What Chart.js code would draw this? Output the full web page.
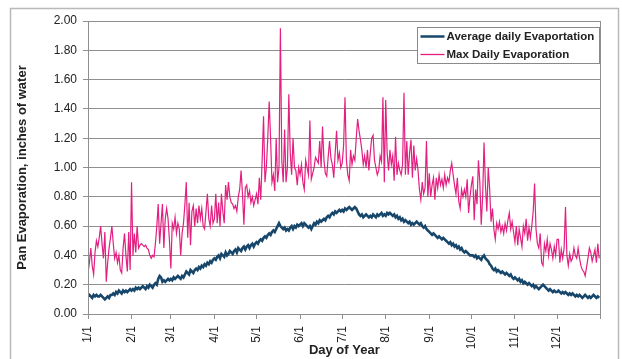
<!DOCTYPE html>
<html>
<head>
<meta charset="utf-8">
<script src="https://cdn.jsdelivr.net/npm/chart.js@4.4.1/dist/chart.umd.min.js"></script>
<style>
  html, body { margin: 0; padding: 0; background: #ffffff; }
  #wrap { position: relative; width: 622px; height: 359px; }
</style>
</head>
<body>
<div id="wrap"><canvas id="chart" width="622" height="359"></canvas></div>
<script>
// Day index (0 = Jan 1) of the first day of each month, and the axis labels shown there
const monthStarts = [0, 31, 59, 90, 120, 151, 181, 212, 243, 273, 304, 334];
const monthLabels = ['1/1', '2/1', '3/1', '4/1', '5/1', '6/1', '7/1', '8/1', '9/1', '10/1', '11/1', '12/1'];
const yTickValues = [0, 0.2, 0.4, 0.6, 0.8, 1.0, 1.2, 1.4, 1.6, 1.8, 2.0];
const seriesNames = ['Average daily Evaportation', 'Max Daily Evaporation'];

// Average daily pan evaporation, inches (one value per day, Jan 1 .. Dec 31)
const avgEvap = [
  // Jan
  0.12,0.13,0.12,0.11,0.13,0.12,0.13,0.12,0.12,0.13,0.12,0.11,0.10,0.11,0.12,0.11,0.13,0.13,0.14,0.13,0.15,0.14,0.16,0.15,0.14,0.16,0.15,0.16,0.15,0.16,0.17,
  // Feb
  0.16,0.17,0.16,0.18,0.17,0.18,0.17,0.18,0.19,0.18,0.17,0.19,0.18,0.20,0.19,0.18,0.20,0.21,0.20,0.24,0.26,0.25,0.22,0.23,0.22,0.23,0.24,0.23,
  // Mar
  0.24,0.23,0.25,0.24,0.25,0.26,0.25,0.24,0.26,0.25,0.27,0.29,0.28,0.27,0.30,0.29,0.28,0.30,0.31,0.30,0.32,0.31,0.33,0.32,0.34,0.33,0.35,0.34,0.36,0.35,0.37,
  // Apr
  0.38,0.37,0.39,0.40,0.38,0.41,0.40,0.39,0.42,0.40,0.41,0.43,0.42,0.41,0.43,0.44,0.42,0.45,0.44,0.43,0.45,0.46,0.44,0.46,0.47,0.45,0.47,0.48,0.46,0.48,
  // May
  0.49,0.48,0.50,0.51,0.50,0.52,0.53,0.52,0.54,0.55,0.54,0.56,0.57,0.56,0.58,0.60,0.62,0.60,0.59,0.58,0.59,0.57,0.58,0.57,0.59,0.60,0.58,0.60,0.59,0.61,0.60,
  // Jun
  0.61,0.62,0.60,0.62,0.61,0.60,0.59,0.60,0.58,0.60,0.62,0.61,0.63,0.62,0.64,0.63,0.64,0.65,0.64,0.66,0.67,0.66,0.68,0.69,0.68,0.70,0.69,0.70,0.71,0.70,
  // Jul
  0.71,0.70,0.72,0.71,0.72,0.73,0.72,0.71,0.72,0.73,0.72,0.70,0.68,0.67,0.68,0.66,0.67,0.68,0.67,0.66,0.67,0.66,0.68,0.67,0.66,0.68,0.67,0.68,0.69,0.67,0.68,
  // Aug
  0.67,0.69,0.68,0.69,0.68,0.67,0.68,0.66,0.67,0.65,0.66,0.64,0.65,0.63,0.64,0.63,0.62,0.63,0.61,0.62,0.61,0.62,0.63,0.62,0.61,0.62,0.60,0.59,0.60,0.58,0.57,
  // Sep
  0.56,0.55,0.54,0.55,0.54,0.53,0.52,0.53,0.52,0.51,0.52,0.51,0.50,0.49,0.48,0.49,0.47,0.48,0.46,0.47,0.45,0.46,0.44,0.45,0.43,0.42,0.43,0.42,0.41,0.40,
  // Oct
  0.40,0.40,0.39,0.40,0.38,0.39,0.38,0.37,0.39,0.40,0.38,0.37,0.36,0.34,0.33,0.31,0.30,0.31,0.29,0.30,0.29,0.28,0.29,0.28,0.27,0.28,0.27,0.26,0.27,0.25,0.24,
  // Nov
  0.25,0.24,0.23,0.24,0.22,0.23,0.21,0.22,0.21,0.20,0.21,0.20,0.19,0.20,0.18,0.19,0.18,0.17,0.18,0.19,0.20,0.19,0.18,0.17,0.16,0.17,0.16,0.15,0.16,0.15,
  // Dec
  0.15,0.16,0.15,0.14,0.15,0.14,0.15,0.14,0.13,0.14,0.13,0.14,0.13,0.12,0.13,0.12,0.13,0.12,0.11,0.12,0.13,0.12,0.11,0.12,0.11,0.12,0.13,0.12,0.11,0.12,0.11
];

// Maximum daily pan evaporation, inches
const maxEvap = [
  // Jan
  0.28,0.35,0.45,0.33,0.27,0.42,0.50,0.46,0.52,0.60,0.48,0.38,0.56,0.22,0.35,0.45,0.52,0.60,0.48,0.38,0.42,0.35,0.40,0.30,0.28,0.45,0.55,0.40,0.29,0.56,0.30,
  // Feb
  0.90,0.40,0.55,0.42,0.60,0.45,0.47,0.48,0.47,0.46,0.47,0.45,0.44,0.40,0.38,0.40,0.39,0.48,0.60,0.75,0.48,0.62,0.75,0.45,0.65,0.72,0.65,0.50,
  // Mar
  0.31,0.62,0.58,0.66,0.55,0.62,0.58,0.40,0.55,0.62,0.75,0.90,0.52,0.76,0.47,0.70,0.74,0.60,0.72,0.62,0.74,0.65,0.72,0.60,0.58,0.70,0.82,0.65,0.60,0.74,0.62,
  // Apr
  0.65,0.82,0.62,0.76,0.60,0.82,0.70,0.62,0.88,0.78,0.90,0.80,0.76,0.75,0.72,0.74,0.70,0.80,0.85,0.98,0.82,0.61,0.86,0.88,0.80,0.84,0.76,0.80,0.74,0.78,
  // May
  0.82,0.75,0.93,0.78,1.05,1.35,0.90,1.00,1.20,1.45,1.20,0.90,0.95,0.84,1.20,0.90,1.00,1.95,1.05,0.90,1.26,0.90,1.00,1.50,1.10,0.95,1.20,1.00,0.98,0.88,1.00,
  // Jun
  0.95,1.02,0.90,0.85,1.05,1.00,0.95,1.32,0.92,0.96,1.00,1.07,1.05,1.03,1.18,1.00,1.28,1.05,0.96,0.94,1.07,1.18,1.06,1.02,0.93,1.10,1.25,1.05,1.10,1.00,
  // Jul
  1.03,1.15,1.48,1.05,0.95,0.91,1.12,1.02,1.08,1.05,1.20,1.33,1.25,1.19,1.12,1.02,1.08,1.00,1.12,0.98,1.10,1.20,1.22,1.05,1.00,0.95,0.98,1.08,1.04,1.48,0.90,
  // Aug
  1.46,1.10,0.98,1.12,1.02,1.08,0.91,1.21,0.95,1.03,0.98,0.95,1.02,1.51,0.95,1.18,0.95,1.10,1.19,0.93,1.15,0.98,1.06,0.98,0.85,0.78,0.90,0.82,0.86,1.18,0.80,
  // Sep
  0.96,0.80,0.88,0.93,0.78,0.93,0.86,0.95,0.88,0.92,0.86,0.95,0.88,0.93,0.90,0.98,1.03,0.95,0.88,0.82,0.93,0.77,0.72,0.85,0.80,0.85,0.80,0.92,0.69,0.80,
  // Oct
  0.88,0.94,0.64,0.85,0.75,1.05,0.90,0.61,0.80,1.17,0.88,0.70,1.00,0.85,0.63,0.72,0.58,0.51,0.62,0.58,0.63,0.56,0.60,0.55,0.62,0.57,0.64,0.69,0.58,0.63,0.56,
  // Nov
  0.49,0.60,0.47,0.58,0.52,0.46,0.60,0.55,0.65,0.50,0.59,0.52,0.60,0.70,0.89,0.58,0.48,0.45,0.55,0.35,0.33,0.48,0.43,0.51,0.40,0.48,0.44,0.38,0.46,0.40,
  // Dec
  0.51,0.51,0.35,0.44,0.38,0.45,0.73,0.40,0.33,0.41,0.36,0.38,0.45,0.40,0.38,0.45,0.38,0.33,0.30,0.29,0.26,0.32,0.38,0.45,0.42,0.36,0.40,0.44,0.35,0.48,0.38
];

const AVG_COLOR = '#17466b';
const MAX_COLOR = '#e31f80';
const GRID_COLOR = '#8f8f8f';

Chart.defaults.font.family = "'Liberation Sans', Arial, Helvetica, sans-serif";
Chart.defaults.color = '#222222';

const toPoints = arr => arr.map((v, i) => ({ x: i, y: v }));

// White page, outer frame and the box around the plotting area
const framePlugin = {
  id: 'framePlugin',
  beforeDraw(chart) {
    const ctx = chart.ctx;
    ctx.save();
    ctx.fillStyle = '#ffffff';
    ctx.fillRect(0, 0, chart.width, chart.height);
    ctx.strokeStyle = '#b9b9b9';
    ctx.lineWidth = 1.5;
    ctx.strokeRect(10.5, 8.5, 608, 362);
    ctx.restore();
  },
  afterDatasetsDraw(chart) {
    const { left, top, right, bottom } = chart.chartArea;
    const ctx = chart.ctx;
    ctx.save();
    ctx.strokeStyle = GRID_COLOR;
    ctx.lineWidth = 1;
    ctx.strokeRect(Math.round(left) + 0.5, Math.round(top) + 0.5,
                   Math.round(right - left) - 1, Math.round(bottom - top));
    ctx.restore();
  }
};

// Boxed legend in the upper right of the plot
const boxLegend = {
  id: 'boxLegend',
  afterDraw(chart) {
    const ctx = chart.ctx;
    const bx = 417.5, by = 27.5, bw = 182, bh = 36;
    ctx.save();
    ctx.fillStyle = '#ffffff';
    ctx.fillRect(bx, by, bw, bh);
    ctx.strokeStyle = '#8a8a8a';
    ctx.lineWidth = 1;
    ctx.strokeRect(bx, by, bw, bh);
    ctx.font = "bold 11.5px 'Liberation Sans', Arial, sans-serif";
    ctx.textBaseline = 'middle';
    ctx.textAlign = 'left';
    chart.data.datasets.forEach((ds, i) => {
      const y = by + 9 + i * 18;
      ctx.strokeStyle = ds.borderColor;
      ctx.lineWidth = i === 0 ? 2.5 : 1.3;
      ctx.beginPath();
      ctx.moveTo(bx + 3, y);
      ctx.lineTo(bx + 27, y);
      ctx.stroke();
      ctx.fillStyle = '#222222';
      ctx.fillText(ds.label, bx + 29, y + 0.5);
    });
    ctx.restore();
  }
};

new Chart(document.getElementById('chart'), {
  type: 'line',
  data: {
    datasets: [
      {
        label: seriesNames[0],
        data: toPoints(avgEvap),
        borderColor: AVG_COLOR,
        borderWidth: 2.6,
        pointRadius: 0,
        tension: 0
      },
      {
        label: seriesNames[1],
        data: toPoints(maxEvap),
        borderColor: MAX_COLOR,
        borderWidth: 1.2,
        pointRadius: 0,
        tension: 0
      }
    ]
  },
  options: {
    responsive: false,
    animation: false,
    devicePixelRatio: 1,
    layout: { padding: { left: 0, right: 17, top: 21, bottom: 0 } },
    plugins: {
      legend: { display: false },
      tooltip: { enabled: false }
    },
    scales: {
      x: {
        type: 'linear',
        min: 0,
        max: 365,
        afterBuildTicks: s => { s.ticks = monthStarts.concat([365]).map(v => ({ value: v })); },
        afterFit: s => { s.height = 45; },
        ticks: {
          autoSkip: false,
          minRotation: 90,
          maxRotation: 90,
          padding: 7,
          color: '#222222',
          font: { size: 12 },
          callback: v => { const i = monthStarts.indexOf(v); return i >= 0 ? monthLabels[i] : ''; }
        },
        grid: { drawOnChartArea: false, drawTicks: true, tickLength: 5, color: GRID_COLOR },
        border: { color: GRID_COLOR },
        title: {
          display: true,
          text: 'Day of Year',
          color: '#222222',
          font: { size: 13, weight: 'bold' },
          padding: { top: 0, bottom: 1 }
        }
      },
      y: {
        min: 0,
        max: 2,
        afterBuildTicks: s => { s.ticks = yTickValues.map(v => ({ value: v })); },
        afterFit: s => { s.width = 88; },
        ticks: {
          padding: 6,
          color: '#222222',
          font: { size: 12 },
          callback: v => v.toFixed(2)
        },
        grid: { color: GRID_COLOR, tickLength: 5 },
        border: { color: GRID_COLOR },
        title: {
          display: true,
          text: 'Pan Evaporation, inches of water',
          color: '#222222',
          font: { size: 13, weight: 'bold' },
          padding: { top: 15, bottom: 0 }
        }
      }
    }
  },
  plugins: [framePlugin, boxLegend]
});
</script>
</body>
</html>
